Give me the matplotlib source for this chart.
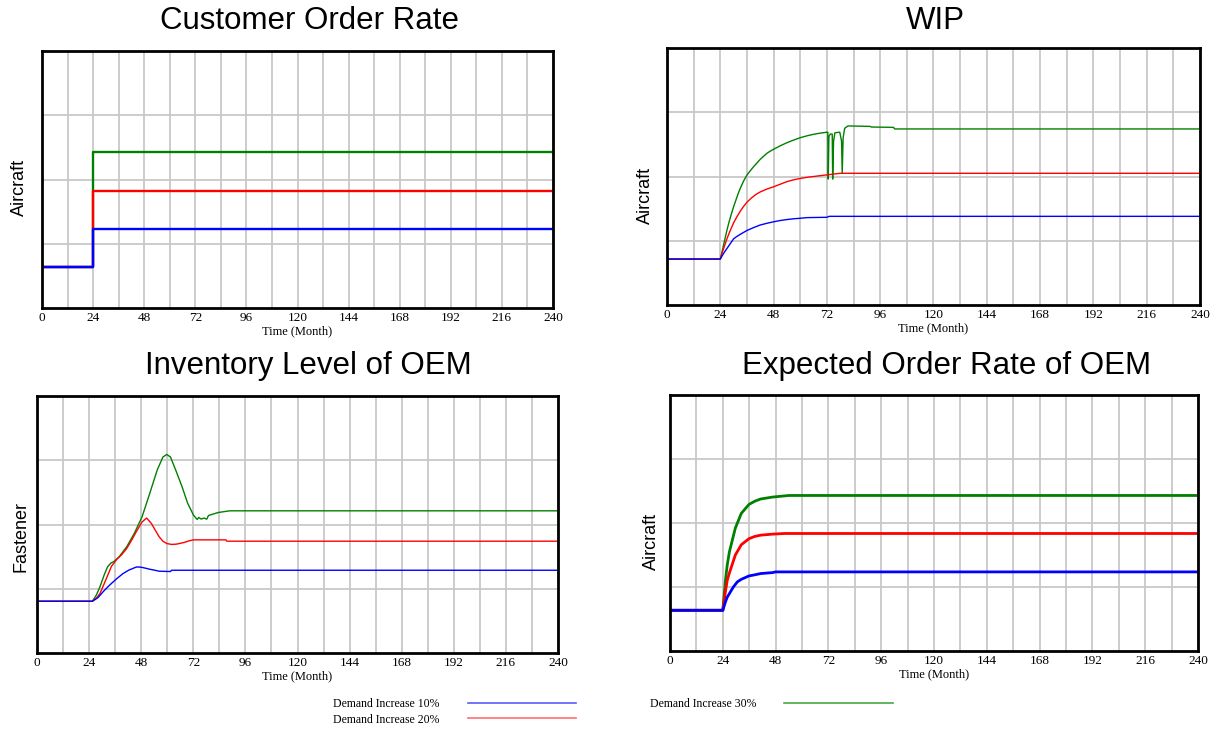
import matplotlib
matplotlib.use('Agg')
import matplotlib.pyplot as plt
from matplotlib.lines import Line2D

# values are in grid units (4 horizontal bands per panel)
labels = ['Demand Increase 10%', 'Demand Increase 20%', 'Demand Increase 30%']
colors = ['#0000ff', '#ff0000', '#008000']
legend_colors = ['#5a5aff', '#ff7070', '#45a845']

# Customer Order Rate (step at month 24)
cor_t = [0, 24, 240]
cor_blue = [0.638, 1.23, 1.23]
cor_red = [0.638, 1.82, 1.82]
cor_green = [0.638, 2.43, 2.43]

# WIP
wip_blue_t = [0, 24, 25, 26, 27, 28, 29, 30, 31.5, 33, 34.5, 36, 39, 42, 45, 48, 51, 54, 57,
              60, 63, 72, 73, 240]
wip_blue = [0.715, 0.715, 0.775, 0.83, 0.88, 0.93, 0.98, 1.03, 1.068, 1.10, 1.13, 1.16, 1.205,
            1.245, 1.272, 1.295, 1.315, 1.33, 1.342, 1.35, 1.36, 1.365, 1.38, 1.38]
wip_red_t = [0, 24, 25, 26, 27, 28, 29, 30, 31.5, 33, 34.5, 36, 38, 40, 42, 45, 48, 51, 54, 57,
             60, 63, 66, 69, 72, 78, 240]
wip_red = [0.715, 0.715, 0.83, 0.93, 1.03, 1.12, 1.20, 1.28, 1.375, 1.46, 1.535, 1.60, 1.665,
           1.72, 1.76, 1.805, 1.84, 1.88, 1.92, 1.948, 1.97, 1.987, 2.0, 2.013, 2.025, 2.05, 2.05]
wip_green_t = [0, 24, 24.75, 25.5, 26.25, 27, 28, 29, 30, 31, 32, 33, 34.5, 36, 37.5, 39, 40.5,
               42, 43.5, 45, 46.5, 48, 51, 54, 57, 60, 63, 66, 69, 72, 72.4, 72.6, 72.9,
               73.5, 74.4, 74.6, 75.0, 75.6, 77.8, 78.6, 78.9, 79.3, 80.0, 81.5, 91.5, 92, 102,
               102.5, 240]
wip_green = [0.715, 0.715, 0.82, 0.94, 1.05, 1.167, 1.30, 1.42, 1.53, 1.63, 1.73, 1.816, 1.93,
             2.023, 2.09, 2.153, 2.21, 2.268, 2.316, 2.361, 2.395, 2.424, 2.478, 2.526, 2.567,
             2.604, 2.633, 2.657, 2.675, 2.689, 2.69, 1.96, 2.62, 2.66, 2.66, 1.96, 2.55, 2.68,
             2.69, 2.55, 2.05, 2.60, 2.75, 2.787, 2.78, 2.77, 2.765, 2.74, 2.74]

# Inventory Level of OEM
inv_blue_t = [0, 25.5, 28.1, 30.8, 33.4, 36.5, 39.6, 42.3, 44.8, 46, 48, 50, 51.9, 54, 56.3,
              61.5, 62, 240]
inv_blue = [0.805, 0.805, 0.862, 0.966, 1.055, 1.15, 1.236, 1.29, 1.325, 1.34, 1.335, 1.32,
            1.304, 1.29, 1.273, 1.268, 1.288, 1.288]
inv_red_t = [0, 25.5, 27.3, 29, 31.6, 34.3, 36.8, 39, 41.3, 43.5, 45.7, 48.4, 50.5, 52.7, 54.5,
             56.3, 58, 59.8, 62, 64.2, 67.7, 70, 72.1, 87, 87.5, 240]
inv_red = [0.805, 0.805, 0.85, 0.925, 1.13, 1.35, 1.46, 1.53, 1.626, 1.75, 1.886, 2.04, 2.10,
           2.016, 1.91, 1.808, 1.74, 1.704, 1.69, 1.694, 1.72, 1.745, 1.761, 1.761, 1.74, 1.74]
inv_green_t = [0, 25.5, 27.3, 29, 31, 32.5, 34, 35.2, 37.8, 41.3, 44.8, 48.4, 51.9, 55.4, 58,
               59.8, 61.5, 64.2, 66.8, 69.4, 72.1, 73.8, 74.5, 75.6, 77, 78.2, 79, 83.5, 88.8, 240]
inv_green = [0.805, 0.805, 0.9, 1.03, 1.22, 1.34, 1.40, 1.418, 1.496, 1.652, 1.86, 2.12, 2.48,
             2.85, 3.05, 3.09, 3.05, 2.82, 2.59, 2.33, 2.145, 2.078, 2.11, 2.085, 2.10, 2.083,
             2.14, 2.187, 2.213, 2.213]

# Expected Order Rate of OEM
eor_blue_t = [0, 24, 25.2, 26, 27, 28.8, 30.6, 32.4, 35.9, 38.5, 41.2, 46.6, 48, 240]
eor_blue = [0.636, 0.636, 0.767, 0.84, 0.897, 1.0, 1.08, 1.12, 1.173, 1.19, 1.21, 1.225, 1.236,
            1.236]
eor_red_t = [0, 24, 25.2, 26, 27, 29.7, 32.4, 35.9, 38.5, 41.2, 46.6, 52, 240]
eor_red = [0.636, 0.636, 0.93, 1.10, 1.22, 1.50, 1.66, 1.755, 1.79, 1.81, 1.826, 1.836, 1.836]
eor_green_t = [0, 24, 25.2, 26, 27, 29.7, 32.4, 35.9, 38.5, 41.2, 46.6, 54, 240]
eor_green = [0.636, 0.636, 1.10, 1.34, 1.55, 1.92, 2.15, 2.29, 2.34, 2.375, 2.405, 2.43, 2.43]

W, H = 1217, 729
fig = plt.figure(figsize=(W / 100, H / 100), dpi=100)
serif = 'Liberation Serif'
sans = 'Liberation Sans'


def make_axes(l, t, r, b):
    ax = fig.add_axes([l / W, 1 - b / H, (r - l) / W, (b - t) / H])
    ax.set_xlim(0, 240)
    ax.set_ylim(0, 4)
    ax.set_xticks(range(0, 241, 24))
    ax.set_xticks(range(0, 241, 12), minor=True)
    ax.set_yticks([1, 2, 3])
    ax.set_yticklabels([])
    ax.grid(which='both', color='#c8c8c8', lw=1.3)
    ax.set_axisbelow(True)
    ax.tick_params(which='both', length=0, pad=3, labelsize=9.5)
    for lab in ax.get_xticklabels():
        lab.set_fontfamily(serif)
    for s in ax.spines.values():
        s.set_linewidth(2)
        s.set_color('black')
    ax.set_xlabel('Time (Month)', fontfamily=serif, fontsize=9, labelpad=1)
    return ax


# top left
ax1 = make_axes(42, 51, 553, 308)
ax1.plot(cor_t, cor_green, color=colors[2], lw=1.7, drawstyle='steps-post')
ax1.plot(cor_t, cor_red, color=colors[1], lw=1.7, drawstyle='steps-post')
ax1.plot(cor_t, cor_blue, color=colors[0], lw=1.7, drawstyle='steps-post')

# top right
ax2 = make_axes(667, 48, 1200, 305)
ax2.plot(wip_green_t, wip_green, color=colors[2], lw=1.0)
ax2.plot(wip_red_t, wip_red, color=colors[1], lw=1.0)
ax2.plot(wip_blue_t, wip_blue, color=colors[0], lw=1.0)

# bottom left
ax3 = make_axes(37, 396, 558, 653)
ax3.plot(inv_green_t, inv_green, color=colors[2], lw=1.0)
ax3.plot(inv_red_t, inv_red, color=colors[1], lw=1.0)
ax3.plot(inv_blue_t, inv_blue, color=colors[0], lw=1.0)

# bottom right
ax4 = make_axes(670, 395, 1198, 651)
ax4.plot(eor_green_t, eor_green, color=colors[2], lw=2.0)
ax4.plot(eor_red_t, eor_red, color=colors[1], lw=2.0)
ax4.plot(eor_blue_t, eor_blue, color=colors[0], lw=2.0)

# titles and y labels
fig.text(310 / W, 1 - 21 / H, 'Customer Order Rate', ha='center', va='center',
         fontfamily=sans, fontsize=22.5)
fig.text(935 / W, 1 - 21 / H, 'WIP', ha='center', va='center', fontfamily=sans, fontsize=22.5)
fig.text(308 / W, 1 - 366 / H, 'Inventory Level of OEM', ha='center', va='center',
         fontfamily=sans, fontsize=22.5)
fig.text(947 / W, 1 - 366 / H, 'Expected Order Rate of OEM', ha='center', va='center',
         fontfamily=sans, fontsize=22.5)

fig.text(19 / W, 1 - 187 / H, 'Aircraft', rotation=90, ha='center', va='center',
         fontfamily=sans, fontsize=13)
fig.text(645 / W, 1 - 195 / H, 'Aircraft', rotation=90, ha='center', va='center',
         fontfamily=sans, fontsize=13)
fig.text(21 / W, 1 - 537 / H, 'Fastener', rotation=90, ha='center', va='center',
         fontfamily=sans, fontsize=13)
fig.text(651 / W, 1 - 541 / H, 'Aircraft', rotation=90, ha='center', va='center',
         fontfamily=sans, fontsize=13)

# legend: label first, then line
handles = [Line2D([], [], color=c, lw=1.2) for c in legend_colors]
fig.legend(handles, labels, ncols=2, loc='upper left', bbox_to_anchor=(333 / W, 1 - 698 / H),
           frameon=False, markerfirst=False, prop={'family': serif, 'size': 8.5},
           handlelength=9.2, handletextpad=2.4, columnspacing=6.2, labelspacing=0.3,
           borderpad=0, borderaxespad=0)

fig.savefig('out.png', dpi=100)
